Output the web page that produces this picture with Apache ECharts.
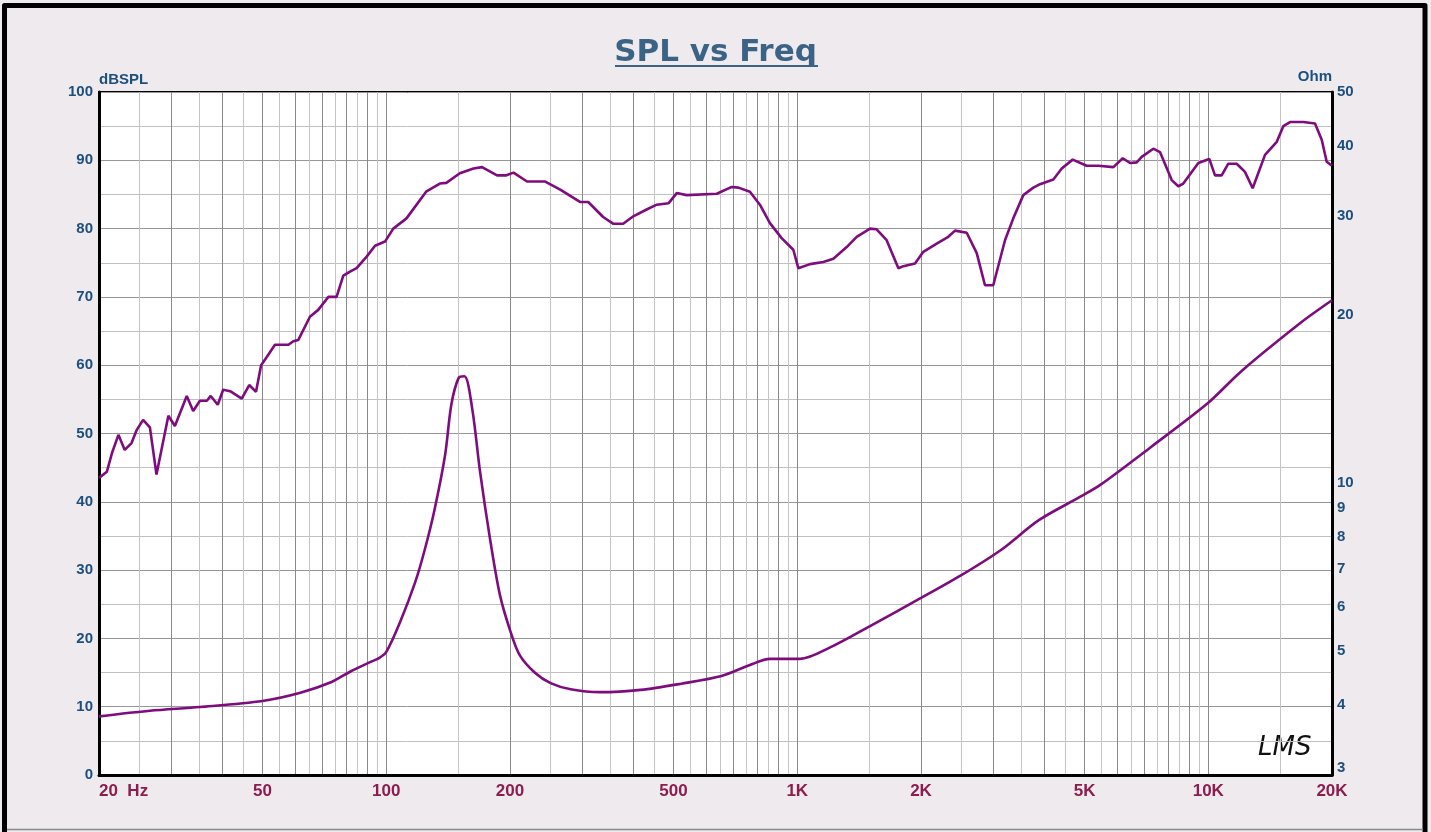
<!DOCTYPE html>
<html><head><meta charset="utf-8">
<script src="https://cdn.jsdelivr.net/npm/echarts@6/dist/echarts.min.js"></script>
<style>html,body{margin:0;padding:0;background:#eeeaee;}#c{width:1431px;height:832px;}</style>
</head><body><div id="c"></div>
<script>
// SPL response (Hz, dBSPL)
const splFreq = [20,20.9,21.5,22.3,23.1,24.0,24.7,25.6,26.6,27.6,29.5,30.6,32.7,33.9,35.2,36.6,37.4,38.9,40.1,41.7,44.5,46.4,48.2,49.6,51.2,53.6,57.8,59.4,61.1,65.2,68.3,72.3,75.7,78.6,81.6,84.7,89.6,93.9,99.3,104,112,125,135,140,151,163,171,186,196,204,220,243,265,296,310,337,357,377,399,430,455,486,509,538,637,693,719,767,811,858,916,978,1006,1074,1157,1224,1319,1395,1503,1560,1650,1762,1812,1934,2026,2184,2330,2420,2584,2733,2862,2998,3202,3354,3548,3752,3896,4198,4400,4678,5060,5400,5876,6194,6452,6698,6887,7350,7630,8147,8453,8694,9458,10058,10384,10779,11186,11724,12282,12824,13742,14676,15228,15810,17034,18182,18882,19414,20000];
const splDb = [43.5,44.4,47.1,49.8,47.6,48.6,50.5,52.0,50.9,44.0,52.6,51.1,55.5,53.3,54.8,54.8,55.5,54.2,56.4,56.2,55.1,57.1,56.1,60.0,61.2,63.0,63.0,63.5,63.7,67.1,68.1,70.0,70.0,73.1,73.7,74.2,75.9,77.5,78.1,80.0,81.5,85.4,86.6,86.7,88.1,88.8,89.0,87.8,87.8,88.2,86.9,86.9,85.7,83.9,83.9,81.7,80.7,80.7,81.8,82.8,83.5,83.7,85.2,84.9,85.1,86.1,86.0,85.4,83.5,80.8,78.6,76.9,74.2,74.8,75.1,75.6,77.3,78.8,80.0,79.9,78.3,74.2,74.5,74.9,76.6,77.8,78.8,79.7,79.4,76.4,71.7,71.7,78.3,81.5,84.9,86.0,86.5,87.2,88.8,90.1,89.2,89.2,89.0,90.3,89.6,89.7,90.5,91.7,91.2,87.1,86.2,86.6,89.6,90.2,87.8,87.8,89.5,89.5,88.3,85.9,90.8,92.7,95.0,95.6,95.6,95.4,93.0,89.8,89.2];
// Impedance (Hz, Ohm)
const impFreq = [20,26.6,35.2,50,61.8,73.6,81.6,91.6,96.2,100,108,117.6,124,131,139,144,150,155,162,169,179,189,200,211,230,251,281,331,416,522,654,767,858,1015,1206,1503,2000,2513,3130,3870,4870,5460,7270,10000,12000,16900,20000];
const impOhm = [3.82,3.91,3.97,4.07,4.21,4.40,4.59,4.78,4.86,4.98,5.63,6.64,7.58,8.94,11.2,13.8,15.4,15.5,13.5,10.5,7.90,6.30,5.45,4.92,4.57,4.38,4.27,4.22,4.26,4.37,4.51,4.72,4.84,4.84,5.08,5.54,6.22,6.84,7.58,8.57,9.43,9.91,11.6,13.9,15.8,19.4,21.2];
// Axis ticks / labels
const xLabelValues = [20,50,100,200,500,1000,2000,5000,10000,20000];
const xLabelText = ['20  Hz','50','100','200','500','1K','2K','5K','10K','20K'];
const xGridValues = [20,25,30,35,40,45,50,55,60,65,70,75,80,85,90,95,100,150,200,250,300,350,400,450,500,550,600,650,700,750,800,850,900,950,1000,1500,2000,2500,3000,3500,4000,4500,5000,5500,6000,6500,7000,7500,8000,8500,9000,9500,10000,15000,20000];
const ohmTicks = [3,4,5,6,7,8,9,10,20,30,40,50];

const FONT = "'Liberation Sans', Arial, sans-serif";
const BLUE = '#1d4f7d';
const CRIMSON = '#8c1d4f';
const PURPLE = '#7e0c7e';

const chart = echarts.init(document.getElementById('c'), null, {renderer:'canvas'});
const option = {
  backgroundColor: '#eeeaee',
  animation: false,
  title: {
    text: 'SPL vs Freq', left: 'center', top: 32,
    textStyle: {color:'#3b6386', fontSize:31, fontWeight:'bold', fontFamily:"'DejaVu Sans', Verdana, sans-serif"}
  },
  grid: {left:99, right:99, top:92, bottom:57, show:true, backgroundColor:'#ffffff', borderColor:'#000', borderWidth:2},
  xAxis: [{
    type:'log', logBase:10, min:20, max:20000,
    axisLine:{show:true, onZero:false, lineStyle:{color:'#000', width:3}},
    axisTick:{show:false, customValues:xGridValues},
    splitLine:{show:true, lineStyle:{color:['#8a8a8a','#c4c4c4'], width:1}},
    axisLabel:{
      customValues:xLabelValues,
      formatter: function(v){ for (let i=0;i<xLabelValues.length;i++){ if (Math.abs(v-xLabelValues[i])<1e-6*xLabelValues[i]) return xLabelText[i]; } return ''; },
      color:CRIMSON, fontWeight:'bold', fontSize:17, fontFamily:FONT, margin:8, alignMinLabel:'left'
    }
  }],
  yAxis: [{
    type:'value', min:0, max:100, interval:5, position:'left',
    name:'dBSPL', nameLocation:'end', nameGap:12,
    nameTextStyle:{color:BLUE, fontWeight:'bold', fontSize:15, fontFamily:FONT, align:'left', verticalAlign:'middle'},
    axisLine:{show:true, lineStyle:{color:'#000', width:3}},
    axisTick:{show:false},
    splitLine:{show:true, lineStyle:{color:['#969696','#c0c0c0'], width:1}},
    axisLabel:{formatter: function(v){ return v % 10 === 0 ? String(v) : ''; }, color:BLUE, fontWeight:'bold', fontSize:15, fontFamily:FONT, margin:6}
  },{
    type:'log', logBase:10, min:3, max:50, position:'right',
    name:'Ohm', nameLocation:'end', nameGap:13,
    nameTextStyle:{color:BLUE, fontWeight:'bold', fontSize:15, fontFamily:FONT, align:'right', verticalAlign:'middle'},
    axisLine:{show:true, lineStyle:{color:'#000', width:3}},
    axisTick:{show:false, customValues:ohmTicks},
    splitLine:{show:false},
    axisLabel:{customValues:ohmTicks, color:BLUE, fontWeight:'bold', fontSize:15, fontFamily:FONT, margin:5, verticalAlignMinLabel:'bottom'}
  }],
  series: [{
    name:'SPL', type:'line', xAxisIndex:0, yAxisIndex:0, showSymbol:false, symbol:'none',
    lineStyle:{color:PURPLE, width:2.6}, data: splFreq.map((f,i)=>[f, splDb[i]])
  },{
    name:'Impedance', type:'line', xAxisIndex:0, yAxisIndex:1, showSymbol:false, symbol:'none', smooth:0.3,
    lineStyle:{color:PURPLE, width:2.6}, data: impFreq.map((f,i)=>[f, impOhm[i]])
  }],
  graphic: [
    {type:'polyline', silent:true, shape:{points:[[4.5,832],[4.5,5.5],[1425,5.5],[1425,832]]}, style:{stroke:'#000', lineWidth:5, fill:null, lineJoin:'round'}},
    {type:'line', silent:true, shape:{x1:7, y1:829.5, x2:1423, y2:829.5}, style:{stroke:'#8a8a8a', lineWidth:1.5}},
    {type:'line', silent:true, shape:{x1:615, y1:66, x2:818, y2:66}, style:{stroke:'#3b6386', lineWidth:2}},
    {type:'text', silent:true, left:1258, top:735, style:{text:'LMS', fill:'#111', font:"italic 26px 'DejaVu Sans', sans-serif"}}
  ]
};
chart.setOption(option);
</script></body></html>
